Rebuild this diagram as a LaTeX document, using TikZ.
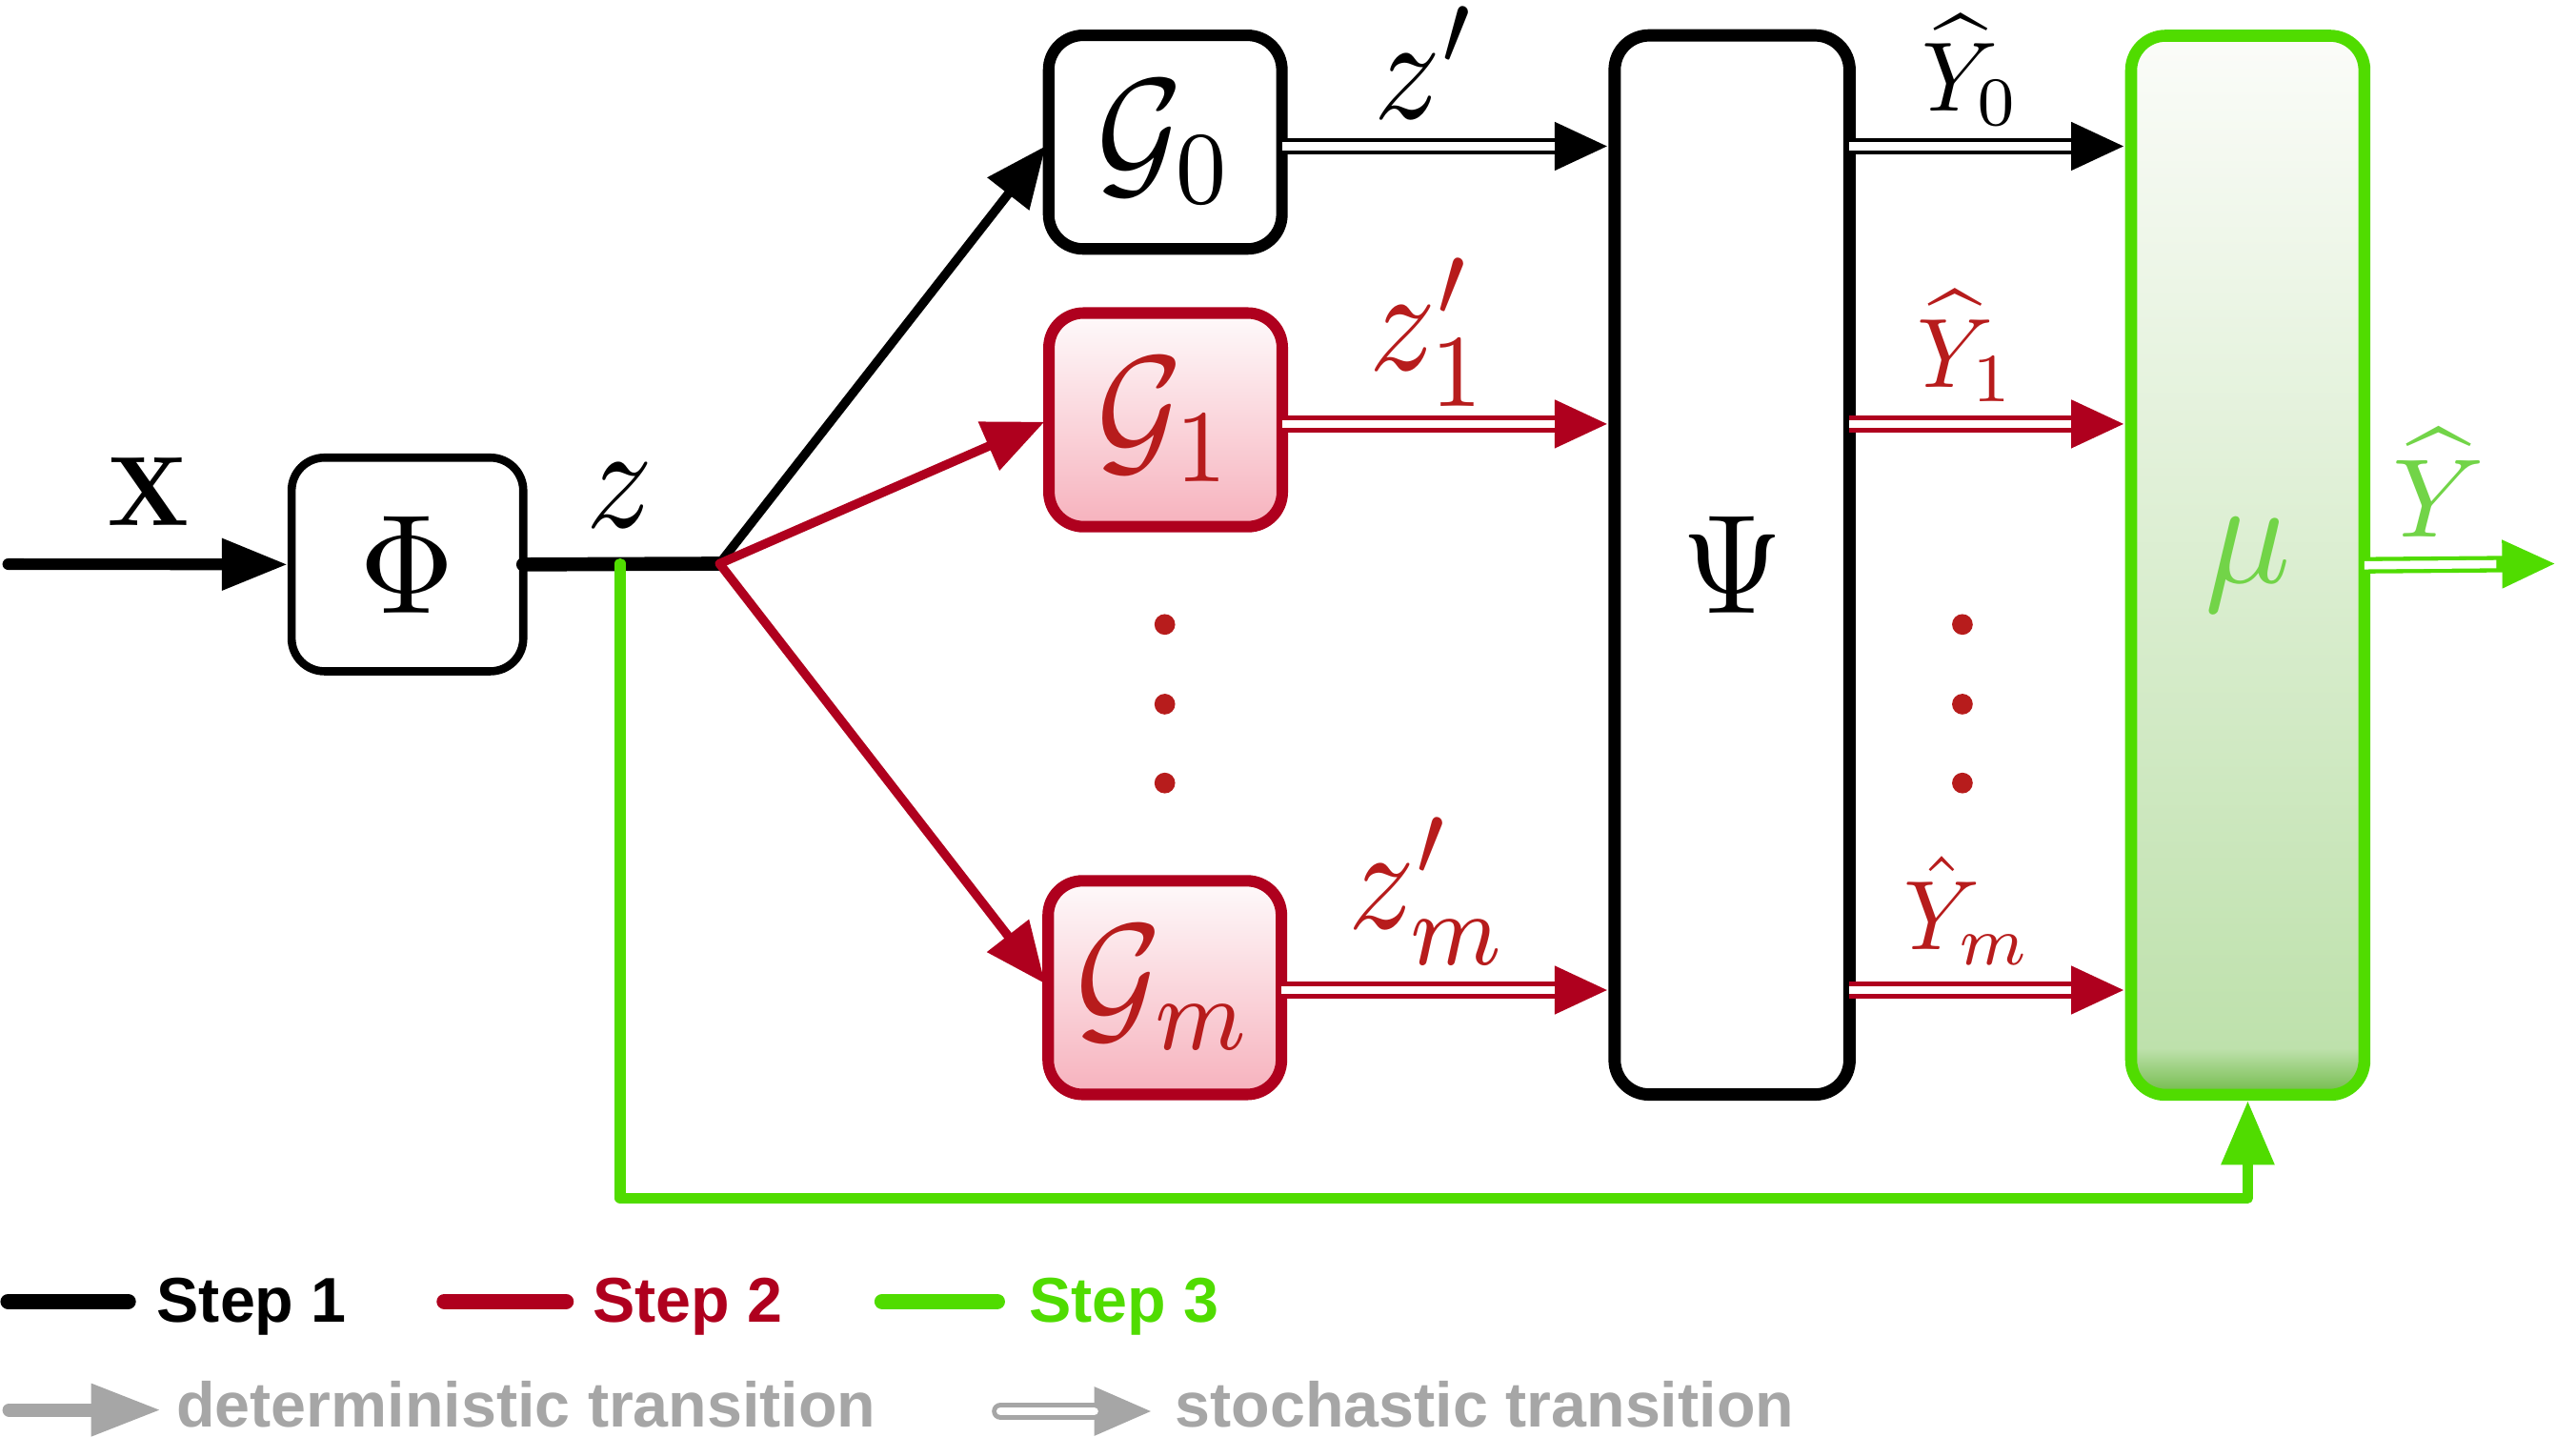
\documentclass[tikz,border=0pt]{standalone}
\usepackage[no-math]{fontspec}
\usepackage{graphicx}
\usetikzlibrary{arrows.meta,calc}
\newfontfamily\legfont{Liberation Sans}
\newcommand\legf{\legfont\bfseries\fontsize{38.5pt}{40pt}\selectfont}
\newcommand\bigmath[1]{\scalebox{8}[9]{$#1$}}
\newcommand\hatmath[1]{\scalebox{5.8}[6]{$#1$}}
\definecolor{cred}{RGB}{175,0,30}
\definecolor{lred}{RGB}{183,28,28}
\definecolor{cgreen}{RGB}{80,220,0}
\definecolor{lgreen}{RGB}{114,212,72}
\definecolor{lgray}{RGB}{166,166,166}
\definecolor{pkA}{RGB}{242,160,175}
\definecolor{pkB}{RGB}{247,180,191}
\definecolor{pkC}{RGB}{254,250,251}
\definecolor{grA}{RGB}{112,186,72}
\definecolor{grB}{RGB}{190,225,172}
\definecolor{grC}{RGB}{251,252,249}
\pgfdeclareverticalshading{pinkfill}{100bp}{color(0bp)=(pkA); color(25bp)=(pkA); color(26.5bp)=(pkB); color(75bp)=(pkC); color(100bp)=(pkC)}
\pgfdeclareverticalshading{greenfill}{100bp}{color(0bp)=(grA); color(25bp)=(grA); color(27.2bp)=(grB); color(75bp)=(grC); color(100bp)=(grC)}
\tikzset{
  every node/.style={inner sep=0pt, outer sep=0pt},
  gbox/.style={draw, rounded corners=21pt, line width=7pt, minimum width=142pt, minimum height=130pt},
  detarrow/.style={line width=5.5pt, line cap=round, -{Triangle[length=37pt,width=31pt]}, shorten >=3pt},
  stoch/.style={line width=10pt, -{Triangle[length=33pt,width=27pt]}, shorten >=3.5pt,
    postaction={draw=white, line width=5pt, -, shorten >=36.5pt}},
}
\begin{document}
\begin{tikzpicture}[x=1pt,y=-1pt]
\useasboundingbox (0,0) rectangle (1568,874);

% boxes
\node[draw, rounded corners=20pt, line width=5pt, minimum width=141pt, minimum height=130pt, fill=white] (phi) at (248,343.5) {\scalebox{8}[8.6]{$\Phi$}};
\node[gbox, fill=white] (G0) at (709.3,86.5) {\bigmath{\mathcal{G}_0}};
\node[gbox, draw=cred, shading=pinkfill, text=lred] (G1) at (709.5,255.5) {\bigmath{\mathcal{G}_1}};
\node[gbox, draw=cred, shading=pinkfill, text=lred] (Gm) at (709,601) {\bigmath{\mathcal{G}_m}};
\node[draw, rounded corners=21pt, line width=7.5pt, minimum width=143pt, minimum height=644.5pt, fill=white] (psi) at (1054.3,343.8) {\scalebox{7.9}[8.6]{$\Psi$}};
\node[draw=cgreen, rounded corners=21pt, line width=7.3pt, minimum width=142pt, minimum height=644.5pt, shading=greenfill, text=lgreen] (mu) at (1368.2,344) {\scalebox{8.7}[9.1]{$\mu$}};

% coordinates
\coordinate (in) at (5,343.3);
\coordinate (br) at (438,343);
\coordinate (zf) at (377.5,343);
\coordinate (fbc) at (1368.2,729);
\coordinate (out) at (1556,343);
\coordinate (a0) at ($(G0.east)+(0,2.5)$);
\coordinate (a1) at ($(G1.east)+(0,2.5)$);
\coordinate (am) at ($(Gm.east)+(0,1.5)$);

% step 1 / input
\draw[line width=7pt, line cap=round, -{Triangle[length=40pt,width=30pt]}, shorten >=2.5pt] (in) -- (phi.west);
\draw[line width=8.5pt, line cap=round] (phi.east) -- (br);
\draw[detarrow] (br) -- (G0.west);
\draw[detarrow, draw=cred] (br) -- (G1.west);
\draw[detarrow, draw=cred] (br) -- (Gm.west);

% feedback (step 3)
\draw[cgreen, line width=6.5pt, line cap=round, line join=round, -{Triangle[length=39pt,width=31pt]}, shorten >=3.6pt] (zf) |- (fbc) -- (mu.south);

% stochastic transitions
\draw[stoch] (a0) -- (a0 -| psi.west);
\draw[stoch, draw=cred] (a1) -- (a1 -| psi.west);
\draw[stoch, draw=cred] (am) -- (am -| psi.west);
\draw[stoch] (a0 -| psi.east) -- (a0 -| mu.west);
\draw[stoch, draw=cred] (a1 -| psi.east) -- (a1 -| mu.west);
\draw[stoch, draw=cred] (am -| psi.east) -- (am -| mu.west);
\draw[stoch, draw=cgreen, shorten >=0pt, postaction={shorten >=33pt}] (mu.east) -- (out);

% dots
\foreach \yy in {380,428.5,476.5}{
  \fill[lred] (709,\yy) circle (6.3pt);
  \fill[lred] (1194.5,\yy) circle (6.3pt);
}

% labels
\node[anchor=base west] (lx) at (65.5,320) {\scalebox{5.8}[6]{$\mathbf{X}$}};
\node[anchor=base west] (lz) at (357,321) {\bigmath{z}};
\node[anchor=base west] (lz0) at (836.6,72) {\bigmath{z'}};
\node[anchor=base west, text=lred] (lz1) at (833.6,225) {\bigmath{z'_1}};
\node[anchor=base west, text=lred] (lzm) at (820.6,565) {\bigmath{z'_m}};
\node[anchor=base west] (ly0) at (1170,67.4) {\hatmath{\widehat{Y}_0}};
\node[anchor=base west, text=lred] (ly1) at (1167,235.5) {\hatmath{\widehat{Y}_1}};
\node[anchor=base west, text=lred] (lym) at (1159,578) {\hatmath{\hat{Y}_m}};
\node[anchor=base west, text=lgreen] (lyo) at (1456.5,327) {\scalebox{7}[6.8]{$\widehat{Y}$}};

% legend
\draw[line width=9.5pt, line cap=round] (5,792) -- (78,792);
\node[anchor=base west, font=\legf] (s1) at (95.5,804.5) {Step 1};
\draw[cred, line width=9.5pt, line cap=round] (270.5,792) -- (344.5,792);
\node[anchor=base west, font=\legf, text=cred] (s2) at (361,804.5) {Step 2};
\draw[cgreen, line width=9.5pt, line cap=round] (537,792) -- (607,792);
\node[anchor=base west, font=\legf, text=cgreen] (s3) at (626.5,804.5) {Step 3};

\draw[lgray, line width=8pt, line cap=round, -{Triangle[length=42.5pt,width=30pt]}] (5.5,858) -- (98,858);
\node[anchor=base west, font=\legf, text=lgray] (dt) at (107.5,868.6) {deterministic transition};
\draw[lgray, line width=10.5pt, line cap=round, -{Triangle[length=36pt,width=27pt]}, postaction={draw=white, line width=5pt, -, shorten >=36pt, line cap=round}] (609,858.8) -- (702,858.8);
\node[anchor=base west, font=\legf, text=lgray] (st) at (715.5,868.6) {stochastic transition};
\end{tikzpicture}
\end{document}
